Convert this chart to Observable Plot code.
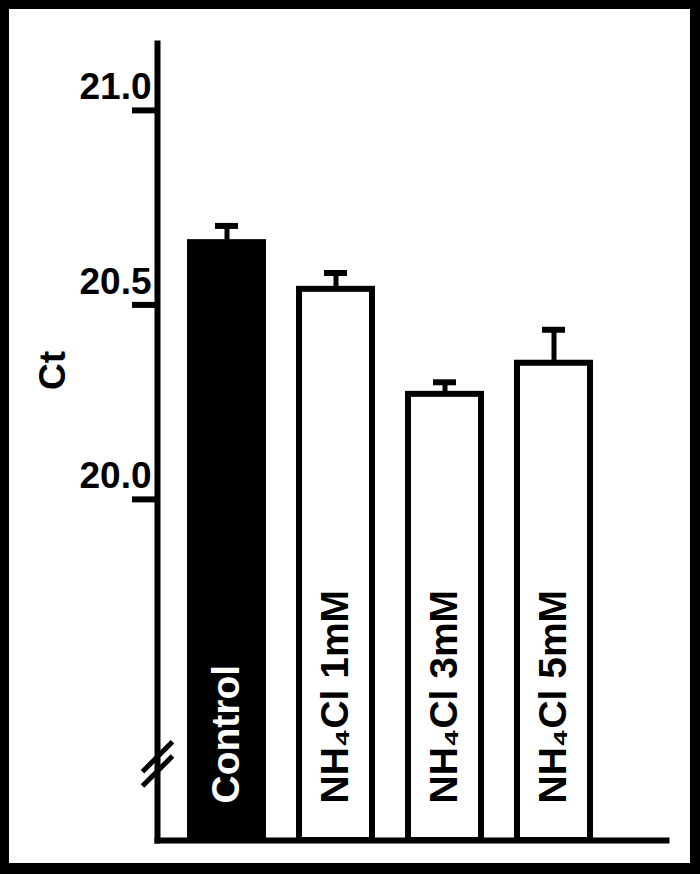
<!DOCTYPE html>
<html>
<head>
<meta charset="utf-8">
<script src="https://cdn.jsdelivr.net/npm/d3@7"></script>
<script src="https://cdn.jsdelivr.net/npm/@observablehq/plot@0.6"></script>
<style>
  html, body { margin: 0; padding: 0; background: white; }
  #wrap { width: 700px; height: 874px; box-sizing: border-box; background: black; padding: 9px 10px 11px 9px; }
  #wrap svg { display: block; background: white; }
</style>
</head>
<body>
<div id="wrap"></div>
<script>
// ---- data ----
const categories = ["Control", "NH₄Cl 1mM", "NH₄Cl 3mM", "NH₄Cl 5mM"];
const ctMeans = [20.66, 20.54, 20.27, 20.35];
const ctErrors = [0.043, 0.042, 0.031, 0.086];
const yTicks = [20.0, 20.5, 21.0];
const yLabel = "Ct";
const axisBreakAt = 19.32;

const data = categories.map((name, i) => ({name, mean: ctMeans[i], err: ctErrors[i]}));
const yDomain = [19.123, 21.172];

// custom "//" break symbol for a dot mark
const breakSymbol = {
  draw(context, size) {
    const r = Math.sqrt(size / Math.PI);
    for (const off of [-0.48 * r, 0.48 * r]) {
      context.moveTo(-r, off + r);
      context.lineTo(r, off - r);
    }
  }
};

const chart = Plot.plot({
  width: 681,
  height: 854,
  marginLeft: 148,
  marginRight: 24,
  marginTop: 34,
  marginBottom: 23,
  style: {background: "white", color: "black", fontFamily: "'Liberation Sans', Arial, sans-serif"},
  x: {domain: categories, range: [148, 614], paddingInner: 0.332, paddingOuter: 0.298, axis: null},
  y: {domain: yDomain, axis: null},
  marks: [
    Plot.barY(data, {
      x: "name", y1: () => yDomain[0], y2: "mean",
      fill: d => d.name === "Control" ? "black" : "white",
      stroke: "black", strokeWidth: 6
    }),
    Plot.frame({anchor: "left", stroke: "black", strokeWidth: 6}),
    Plot.frame({anchor: "bottom", stroke: "black", strokeWidth: 6}),
    Plot.ruleX(data, {x: "name", y1: "mean", y2: d => d.mean + d.err, stroke: "black", strokeWidth: 5}),
    Plot.tickY(data, {x: "name", y: d => d.mean + d.err, stroke: "black", strokeWidth: 6, inset: 25}),
    Plot.axisY(yTicks, {tickSize: 25, strokeWidth: 6, stroke: "black", fill: "none", label: null, tickFormat: () => ""}),
    Plot.axisY(yTicks, {tickSize: 0, tickPadding: 6, dy: -23, fontSize: 37, fontWeight: "bold", fill: "black",
      tickFormat: d3.format(".1f"), label: null}),
    Plot.text([yLabel], {frameAnchor: "left", rotate: -90, dx: -104, dy: -52, fontSize: 37, fontWeight: "bold", fill: "black"}),
    Plot.text(data, {
      x: "name", y: () => yDomain[0], text: "name", rotate: -90, textAnchor: "start", dy: -37,
      fontSize: 39, fontWeight: "bold",
      fill: d => d.name === "Control" ? "white" : "black"
    }),
    Plot.dot([axisBreakAt], {y: d => d, frameAnchor: "left", r: 15, symbol: breakSymbol,
      fill: "none", stroke: "black", strokeWidth: 5})
  ]
});
document.getElementById("wrap").appendChild(chart);
</script>
</body>
</html>
